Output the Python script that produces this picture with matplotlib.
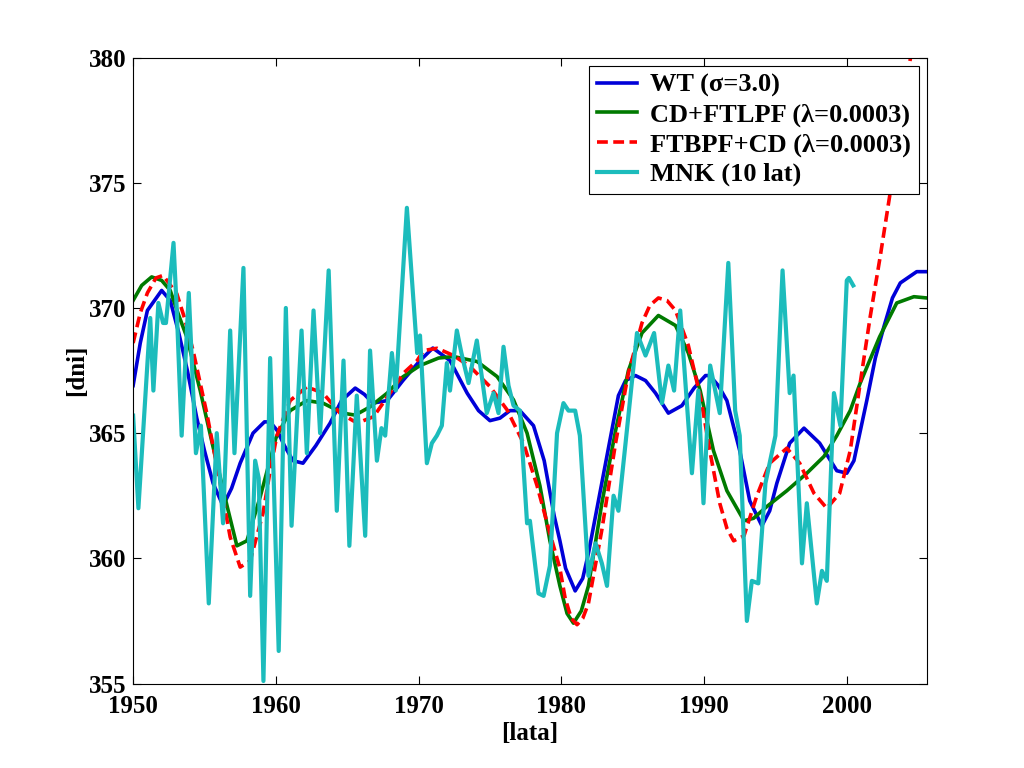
import matplotlib
matplotlib.use('Agg')

import numpy as np
import matplotlib.pyplot as plt

plt.rcParams['font.family'] = ['Liberation Serif', 'DejaVu Serif']
plt.rcParams['font.weight'] = 'bold'

# WT (sigma=3.0)
wt_year = [1950.0, 1950.5, 1951.0, 1952.0, 1952.6, 1953.2, 1953.8, 1954.46, 1955.0, 1955.6,
           1956.3, 1956.9, 1957.5, 1958.4, 1959.2, 1959.6, 1960.1, 1960.6, 1961.2, 1961.9,
           1962.8, 1963.8, 1964.6, 1965.56, 1966.2, 1966.8, 1967.8, 1968.9, 1970.1, 1971.0,
           1972.2, 1973.4, 1974.2, 1975.0, 1975.7, 1976.4, 1977.1, 1978.05, 1978.8, 1979.5,
           1979.9, 1980.3, 1980.97, 1981.5, 1981.9, 1982.5, 1983.1, 1984.0, 1984.5, 1985.2,
           1985.9, 1986.6, 1987.5, 1988.45, 1989.3, 1990.1, 1990.4, 1991.0, 1991.6, 1992.5,
           1993.2, 1994.05, 1994.6, 1995.1, 1996.0, 1997.0, 1998.1, 1999.3, 2000.0, 2000.5,
           2001.4, 2002.0, 2002.6, 2003.2, 2003.75, 2004.9, 2005.6]
wt_val = [366.9, 368.6, 369.9, 370.7, 370.3, 369.0, 367.5, 365.6, 364.3, 363.0,
          362.1, 362.8, 363.8, 365.0, 365.45, 365.45, 365.1, 364.5, 363.9, 363.8,
          364.5, 365.4, 366.3, 366.8, 366.55, 366.2, 366.3, 367.1, 367.9, 368.4,
          367.9, 366.6, 365.9, 365.5, 365.6, 365.9, 365.9, 365.3, 363.9, 361.7,
          360.7, 359.6, 358.7, 359.2, 360.2, 362.0, 363.8, 366.5, 367.1, 367.3,
          367.1, 366.6, 365.8, 366.1, 366.8, 367.3, 367.3, 366.9, 366.3, 364.3,
          362.3, 361.3, 361.9, 363.0, 364.6, 365.2, 364.6, 363.5, 363.4, 363.9,
          366.3, 368.0, 369.25, 370.4, 371.0, 371.45, 371.45]

# CD+FTLPF (lambda=0.0003)
cd_year = [1950.0, 1950.6, 1951.3, 1952.0, 1952.6, 1953.2, 1953.76, 1954.7, 1955.6, 1956.6,
           1957.27, 1957.97, 1958.9, 1960.0, 1961.0, 1962.17, 1963.3, 1964.7, 1965.56, 1966.6,
           1967.8, 1968.9, 1970.1, 1971.4, 1972.45, 1974.1, 1975.5, 1976.65, 1977.6, 1978.5,
           1979.2, 1979.9, 1980.4, 1980.85, 1981.4, 1981.9, 1982.84, 1983.8, 1984.7, 1985.65,
           1986.8, 1988.0, 1988.9, 1989.73, 1990.66, 1991.6, 1992.8, 1993.47, 1994.4, 1995.8,
           1997.2, 1998.4, 1999.3, 2000.24, 2000.94, 2002.3, 2003.5, 2004.7, 2005.6]
cd_val = [370.3, 370.9, 371.24, 371.1, 370.7, 369.7, 368.84, 366.7, 364.45, 362.05,
          360.5, 360.7, 362.45, 364.8, 365.9, 366.3, 366.2, 365.8, 365.72, 366.05,
          366.6, 367.25, 367.7, 368.0, 368.06, 367.86, 367.26, 366.33, 365.0, 362.9,
          360.7, 358.9, 357.8, 357.41, 357.9, 358.9, 362.2, 365.1, 367.5, 369.0,
          369.7, 369.3, 368.2, 366.7, 364.3, 362.7, 361.5, 361.6, 362.07, 362.7,
          363.4, 364.07, 364.9, 365.9, 367.0, 368.85, 370.2, 370.45, 370.4]

# FTBPF+CD (lambda=0.0003)
ft_year = [1950.0, 1950.5, 1951.0, 1951.6, 1952.1, 1953.06, 1953.6, 1954.2, 1955.16, 1956.1,
           1956.8, 1957.5, 1958.2, 1959.1, 1959.6, 1960.07, 1961.0, 1962.17, 1963.3, 1964.5,
           1965.7, 1966.85, 1968.0, 1968.95, 1969.9, 1970.35, 1971.3, 1972.45, 1973.6, 1975.0,
           1976.2, 1977.35, 1978.3, 1979.2, 1979.9, 1980.27, 1980.7, 1981.1, 1981.5, 1981.9,
           1982.84, 1983.8, 1984.7, 1985.65, 1986.2, 1986.8, 1987.4, 1988.0, 1988.9, 1989.8,
           1990.4, 1991.1, 1991.6, 1992.07, 1992.8, 1993.7, 1994.6, 1995.8, 1996.7, 1997.7,
           1998.6, 1999.5, 2000.24, 2000.94, 2001.64, 2002.34, 2003.04, 2003.75, 2004.33, 2005.0,
           2005.6]
ft_val = [368.6, 369.8, 370.6, 371.2, 371.3, 370.57, 369.6, 368.3, 365.8, 363.0,
          360.85, 359.65, 359.9, 361.8, 363.5, 364.9, 366.3, 366.85, 366.6, 365.8,
          365.4, 365.66, 366.6, 367.4, 367.9, 368.3, 368.39, 368.1, 367.66, 366.86,
          365.93, 364.6, 362.9, 361.0, 359.6, 358.4, 357.6, 357.35, 357.6, 358.2,
          361.14, 364.6, 367.4, 369.4, 370.1, 370.4, 370.3, 369.9, 368.5, 366.3,
          364.3, 362.2, 361.2, 360.7, 360.9, 362.5, 363.8, 364.4, 363.8, 362.6,
          362.0, 362.6, 364.3, 367.0, 369.65, 372.05, 374.6, 377.2, 379.5, 382.0,
          384.0]

# MNK (10 lat)
mnk_year = [1950.0, 1950.37, 1951.2, 1951.42, 1951.77, 1952.1, 1952.3, 1952.83, 1953.06, 1953.4,
            1953.9, 1954.4, 1954.75, 1955.3, 1955.86, 1956.3, 1956.8, 1957.1, 1957.73, 1958.2,
            1958.55, 1958.8, 1959.13, 1959.6, 1960.2, 1960.7, 1961.1, 1961.8, 1962.17, 1962.64,
            1963.1, 1963.7, 1964.27, 1964.74, 1965.15, 1965.67, 1966.26, 1966.6, 1967.08, 1967.4,
            1967.66, 1968.13, 1968.4, 1969.18, 1969.9, 1970.1, 1970.58, 1970.93, 1971.28, 1971.63,
            1971.98, 1972.2, 1972.68, 1973.0, 1973.5, 1974.08, 1974.78, 1975.25, 1975.6, 1975.95,
            1976.3, 1976.65, 1977.1, 1977.6, 1977.8, 1978.4, 1978.76, 1979.2, 1979.7, 1980.15,
            1980.5, 1980.97, 1981.3, 1981.9, 1982.4, 1982.84, 1983.2, 1983.66, 1984.0, 1984.5,
            1985.3, 1985.9, 1986.5, 1987.05, 1987.5, 1987.9, 1988.33, 1989.15, 1989.6, 1989.96,
            1990.43, 1991.1, 1991.7, 1992.18, 1992.5, 1993.0, 1993.35, 1993.8, 1994.3, 1995.0,
            1995.5, 1996.0, 1996.27, 1996.86, 1997.2, 1997.9, 1998.26, 1998.6, 1999.1, 1999.55,
            2000.0, 2000.15, 2000.45]
mnk_val = [365.7, 362.0, 369.6, 366.7, 370.2, 369.4, 369.4, 372.6, 369.9, 364.9,
           370.6, 364.2, 365.3, 358.2, 365.0, 361.4, 369.1, 364.2, 371.6, 358.5,
           363.9, 363.2, 355.1, 368.0, 356.3, 370.0, 361.3, 369.1, 364.2, 369.9,
           365.0, 371.5, 361.9, 367.9, 360.5, 366.5, 360.9, 368.3, 363.9, 365.2,
           364.9, 368.2, 366.7, 374.0, 368.2, 368.9, 363.8, 364.6, 364.9, 365.3,
           367.8, 366.7, 369.1, 368.2, 367.0, 368.7, 365.8, 366.6, 365.8, 368.45,
           366.9, 366.1, 365.9, 361.4, 361.5, 358.6, 358.5, 359.7, 365.0, 366.2,
           365.9, 365.9, 364.9, 359.3, 360.6, 359.8, 358.9, 362.5, 361.9, 364.6,
           369.0, 368.1, 369.0, 366.2, 367.7, 366.7, 369.9, 363.4, 366.7, 362.2,
           367.7, 365.8, 371.8, 365.9, 364.9, 357.5, 359.1, 359.0, 363.0, 364.9,
           371.5, 366.6, 367.3, 359.8, 362.2, 358.2, 359.5, 359.1, 366.6, 365.3,
           371.1, 371.2, 370.9]

labels = [u'WT (\u03c3=3.0)', u'CD+FTLPF (\u03bb=0.0003)',
          u'FTBPF+CD (\u03bb=0.0003)', 'MNK (10 lat)']

fig = plt.figure(figsize=(10.24, 7.68), dpi=100)
ax = fig.add_axes([0.13, 0.11, 0.775, 0.815])

ax.plot(wt_year, wt_val, color='#0000d8', lw=2.6, label=labels[0])
ax.plot(cd_year, cd_val, color='#007a00', lw=2.6, label=labels[1])
ax.plot(ft_year, ft_val, color='#ff0000', lw=2.6, ls=(0, (3, 1.5)), label=labels[2])
ax.plot(mnk_year, mnk_val, color='#1cbcbc', lw=3.0, label=labels[3])

ax.set_xlim(1950, 2005.6)
ax.set_ylim(355, 380)
ax.set_xticks(np.arange(1950, 2001, 10))
ax.set_yticks(np.arange(355, 381, 5))
ax.tick_params(direction='in', top=True, right=True, length=6, width=0.8,
               labelsize=18)
ax.tick_params(axis='x', pad=8)
ax.tick_params(axis='y', pad=5)
for sp in ax.spines.values():
    sp.set_linewidth(0.8)

ax.set_xlabel('[lata]', fontsize=18, fontweight='bold', labelpad=3)
ax.set_ylabel('[dni]', fontsize=18, fontweight='bold', labelpad=0)

leg = ax.legend(loc='upper right', fontsize=19, fancybox=False, framealpha=1,
                edgecolor='black', handlelength=1.5, borderaxespad=0.3,
                labelspacing=0.22, handletextpad=0.5, borderpad=0.3)
leg.get_frame().set_linewidth(0.8)
leg.set_zorder(10)

fig.savefig('out.png', dpi=100)
